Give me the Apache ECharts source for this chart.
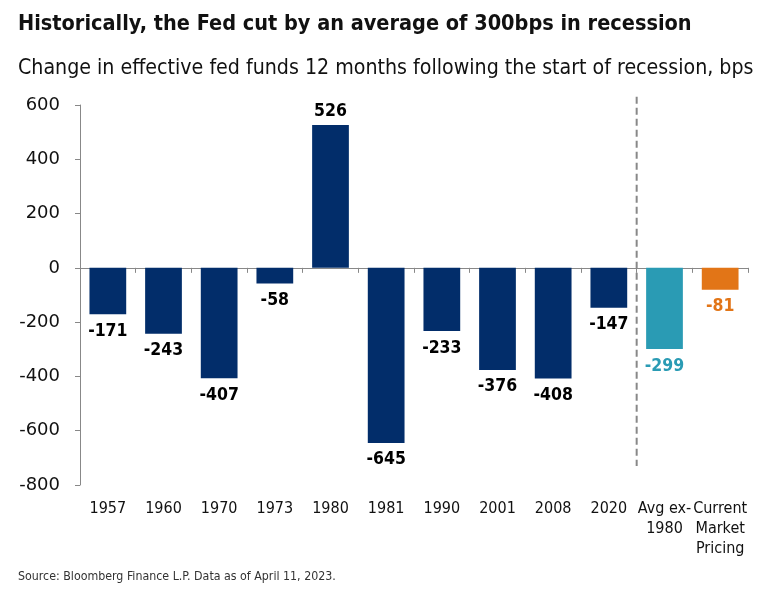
<!DOCTYPE html>
<html><head><meta charset="utf-8">
<script src="https://cdn.jsdelivr.net/npm/echarts@6/dist/echarts.min.js"></script>
<style>html,body{margin:0;padding:0;background:#fff}#c{width:770px;height:591px}</style>
</head><body><div id="c"></div>
<script>
const categories = ['1957','1960','1970','1973','1980','1981','1990','2001','2008','2020','Avg ex-\n1980','Current\nMarket\nPricing'];
const values = [-171,-243,-407,-58,526,-645,-233,-376,-408,-147,-299,-81];
const barColors = ['#022D6A','#022D6A','#022D6A','#022D6A','#022D6A','#022D6A','#022D6A','#022D6A','#022D6A','#022D6A','#2A9BB4','#E27517'];
const labelColors = ['#000','#000','#000','#000','#000','#000','#000','#000','#000','#000','#2A9BB4','#E27517'];
const yTicks = [-800,-600,-400,-200,0,200,400,600];
const dividerPos = 10;
const dividerRange = [630,-730];

const NARROW = '"Liberation Sans Narrow","DejaVu Sans Condensed",sans-serif';
const chart = echarts.init(document.getElementById('c'));
chart.setOption({
  animation:false,
  title:[
    {text:'Historically, the Fed cut by an average of 300bps in recession',left:13,top:8,textStyle:{fontFamily:NARROW,fontWeight:'bold',fontSize:21.5,color:'#111'}},
    {text:'Change in effective fed funds 12 months following the start of recession, bps',left:13,top:53,textStyle:{fontFamily:NARROW,fontWeight:'normal',fontSize:21.2,color:'#111'}},
    {text:'Source: Bloomberg Finance L.P. Data as of April 11, 2023.',left:13,top:566,textStyle:{fontFamily:NARROW,fontWeight:'normal',fontSize:12.3,color:'#333'}}
  ],
  grid:{left:80,right:22,top:105,bottom:106},
  xAxis:[
    {type:'category',data:categories,position:'bottom',axisLine:{show:false,onZero:false},axisTick:{show:false},
     axisLabel:{interval:0,margin:14,fontFamily:NARROW,fontSize:16,color:'#111',lineHeight:20,verticalAlign:'top'}},
    {type:'category',data:categories,position:'bottom',axisLine:{show:true,onZero:true,lineStyle:{color:'#888'}},
     axisTick:{show:true,length:5,lineStyle:{color:'#888'}},axisLabel:{show:false}},
    {type:'value',min:0,max:categories.length,show:false}
  ],
  yAxis:{type:'value',min:yTicks[0],max:yTicks[yTicks.length-1],interval:200,
    axisLine:{show:true,lineStyle:{color:'#888'}},axisTick:{show:true,length:5,lineStyle:{color:'#888'}},
    splitLine:{show:false},axisLabel:{fontFamily:'"DejaVu Sans",sans-serif',fontSize:18,color:'#111',margin:20}},
  series:[
    {type:'bar',xAxisIndex:0,barWidth:'66%',
     data:values.map((v,i)=>({value:v,itemStyle:{color:barColors[i]},
       label:{show:true,position:v>=0?'top':'bottom',distance:v>=0?5:8,color:labelColors[i],fontFamily:NARROW,fontWeight:'bold',fontSize:17.5}}))},
    {type:'line',xAxisIndex:2,data:[[dividerPos,dividerRange[0]],[dividerPos,dividerRange[1]]],symbol:'none',clip:false,
     lineStyle:{color:'#888',width:2,type:[7,4]},z:1}
  ]
});
</script></body></html>
